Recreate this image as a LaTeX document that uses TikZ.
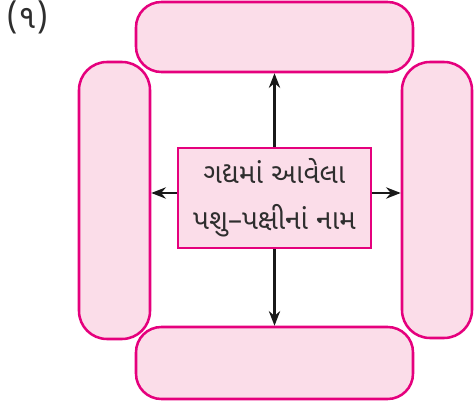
\documentclass[tikz,border=0pt]{standalone}
\usepackage{fontspec}
\usepackage{xcolor}
\usetikzlibrary{arrows.meta,positioning,calc}
\newfontfamily\gujfont[Script=Gujarati]{Noto Sans Gujarati UI}
\newfontfamily\dashfont{Noto Sans}
\definecolor{boxline}{HTML}{E5007D}
\definecolor{boxfill}{HTML}{FBDDE9}
\definecolor{txt}{HTML}{2E2E2E}

\begin{document}
\begin{tikzpicture}[x=0.75pt,y=-0.75pt,>={Stealth[length=11pt,width=8.5pt]},every node/.style={align=center,font=\gujfont\fontsize{21pt}{34.5pt}\selectfont,text=txt},slot/.style={draw=boxline,fill=boxfill,line width=1.9pt,rounded corners=19pt,inner sep=0pt},core/.style={draw=boxline,fill=boxfill,line width=1.9pt,inner sep=0pt,minimum width=144.75pt,minimum height=75pt},link/.style={->,line width=1.6pt,draw=black!90}]
\useasboundingbox (0,0) rectangle (476,402);
\node[anchor=north west,font=\gujfont\fontsize{25pt}{30pt}\selectfont,inner sep=0pt] (num) at (6,1) {(૧)};
\node[slot,minimum width=207.75pt,minimum height=52.5pt] (top) at (274.5,37) {};
\node[slot,minimum width=207.75pt,minimum height=54pt] (bot) at (274.5,363) {};
\node[slot,minimum width=53.25pt,minimum height=207.75pt,rounded corners=21pt] (lft) at (114.5,200.5) {};
\node[slot,minimum width=52.5pt,minimum height=207pt,rounded corners=21pt] (rgt) at (437,200) {};
\node[core] (mid) at (274.5,198) {ગદ્યમાં આવેલા\\પશુ{\dashfont–}પક્ષીનાં નામ};
\draw[link] (mid.north)--(top.south);\draw[link] (mid.south)--(bot.north);
\draw[link] ([yshift=3.75pt]mid.west)--([yshift=3.75pt]mid.west -| lft.east);
\draw[link] ([yshift=3.75pt]mid.east)--([yshift=3.75pt]mid.east -| rgt.west);
\end{tikzpicture}
\end{document}
